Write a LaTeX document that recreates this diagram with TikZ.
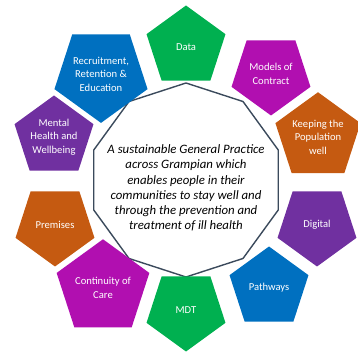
\documentclass[tikz,border=0pt]{standalone}
\usepackage{fontspec}
\setmainfont{Carlito}
\usetikzlibrary{shapes.geometric,positioning}

\definecolor{ringgreen}{HTML}{00B050}
\definecolor{ringmagenta}{HTML}{B10FB0}
\definecolor{ringorange}{HTML}{C55A11}
\definecolor{ringpurple}{HTML}{7030A0}
\definecolor{ringblue}{HTML}{0070C0}
\definecolor{hubline}{HTML}{3B4A5C}

\tikzset{
  theme/.style={regular polygon, regular polygon sides=5, minimum size=83pt,
    inner sep=0pt, text=white, align=center, font=\fontsize{10.6}{13.6}\selectfont},
  themeup/.style={theme},
  themedown/.style={theme, regular polygon rotate=180},
  hubshape/.style={regular polygon, regular polygon sides=10, regular polygon rotate=18,
    minimum size=194pt, draw=hubline, line width=1.4pt, fill=white},
  hubtext/.style={align=center, inner sep=0pt, font=\fontsize{12.8}{15.3}\selectfont\itshape}
}

\begin{document}
\begin{tikzpicture}[on grid]
\useasboundingbox (-186pt,-172pt) rectangle (172pt,180pt);
\node [hubshape] (hub) at (0,0) {};
\node [hubtext] (vision) at ([yshift=-8pt]hub.center) {A sustainable General Practice\\
across Grampian which\\ enables people in their\\ communities to stay well and\\
through the prevention and\\ treatment of ill health};
%----------------------------------
\node [themeup, fill=ringgreen, above=133pt of hub] (data) {Data};
\node [themedown, fill=ringmagenta, above right=106pt and 85pt of hub] (models) {Models of\\ Contract};
\node [themeup, fill=ringorange, above right=43pt and 132pt of hub] (keeping) {Keeping the\\ Population\\ well};
\node [themedown, fill=ringpurple, below right=45pt and 131pt of hub] (digital) {Digital};
\node [themeup, fill=ringblue, below right=108pt and 83pt of hub] (pathways) {Pathways};
%----------------------------------
\node [themedown, fill=ringgreen, below=130pt of hub] (mdt) {MDT};
\node [themeup, fill=ringmagenta, below left=108pt and 83pt of hub] (continuity) {Continuity of\\ Care};
\node [themedown, fill=ringorange, below left=45pt and 131pt of hub] (premises) {Premises};
\node [themeup, fill=ringpurple, above left=43pt and 132pt of hub] (mental) {Mental\\ Health and\\ Wellbeing};
\node [themedown, fill=ringblue, above left=106pt and 85pt of hub] (recruitment) {Recruitment,\\ Retention \&\\ Education};
\end{tikzpicture}
\end{document}
